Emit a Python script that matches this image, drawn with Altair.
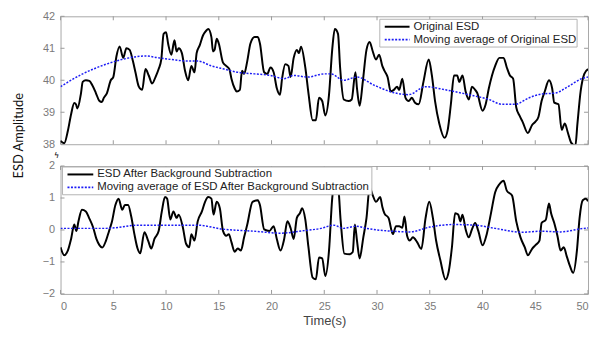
import altair as alt
import pandas as pd

# ---------------- data ----------------
t_orig = [0.0, 0.35, 0.7, 1.0, 1.3, 1.47, 1.6, 1.94, 2.1, 2.4, 2.73, 3.0, 3.35, 3.67, 3.92, 4.1, 4.4, 4.76,
          5.0, 5.3, 5.6, 5.94, 6.24, 6.55, 6.86, 7.1, 7.42, 7.74, 8.05, 8.36, 8.68, 9.0, 9.3, 9.55, 9.77,
          10.0, 10.2, 10.5, 10.8, 11.0, 11.2, 11.5, 11.8, 12.1, 12.4, 12.7, 12.9, 13.2, 13.5, 13.8, 14.0,
          14.3, 14.45, 14.6, 14.8, 15.0, 15.4, 15.7, 16.0, 16.2, 16.5, 16.7, 17.0, 17.2, 17.4, 17.7, 18.0,
          18.4, 18.7, 18.9, 19.3, 19.6, 19.9, 20.2, 20.5, 20.8, 21.0, 21.3, 21.6, 21.8, 22.1, 22.4, 22.6,
          22.8, 23.2, 23.5, 23.9, 24.2, 24.5, 24.8, 25.1, 25.45, 25.75, 26.0, 26.3, 26.5, 26.85, 27.3,
          27.6, 27.95, 28.1, 28.35, 28.65, 29.0, 29.3, 29.6, 29.9, 30.2, 30.5, 30.7, 31.0, 31.3, 31.6,
          31.9, 32.1, 32.4, 32.7, 33.0, 33.3, 33.6, 33.95, 34.4, 34.9, 35.2, 35.5, 35.9, 36.4, 36.7,
          37.0, 37.3, 37.6, 37.8, 38.1, 38.4, 38.7, 39.0, 39.3, 39.5, 40.0, 40.3, 40.6, 40.9, 41.2,
          41.6, 42.0, 42.3, 42.6, 42.9, 43.2, 43.5, 43.8, 44.3, 44.7, 45.0, 45.3, 45.6, 45.9, 46.3,
          46.6, 46.8, 47.2, 47.5, 47.8, 48.1, 48.4, 48.8, 49.0, 49.3, 49.65, 50.0]
v_orig = [38.1, 38.03, 38.43, 38.94, 39.29, 39.24, 39.12, 39.6, 39.95, 40.0, 39.98, 39.85, 39.6, 39.36,
          39.32, 39.45, 39.6, 40.0, 40.1, 40.75, 41.06, 40.7, 41.0, 40.95, 40.6, 40.25, 39.8, 39.7,
          40.35, 40.15, 39.9, 40.1, 40.35, 40.65, 41.45, 41.5, 41.14, 40.8, 41.25, 40.9, 41.0, 40.85,
          40.3, 40.0, 40.45, 40.25, 40.85, 41.1, 41.4, 41.55, 41.6, 41.35, 40.9, 40.95, 41.3, 41.15,
          40.55, 40.45, 40.35, 40.05, 39.75, 39.65, 39.7, 40.3, 40.2, 40.6, 41.15, 41.35, 41.35, 41.15,
          40.25, 40.2, 40.4, 40.25, 39.75, 39.55, 40.05, 40.5, 40.45, 40.1, 40.7, 40.95, 40.85, 41.05,
          40.4, 39.6, 38.75, 38.75, 39.45, 39.35, 38.9, 39.55, 40.95, 41.6, 41.45, 40.4, 39.4, 39.35,
          39.4, 40.25, 39.75, 39.2, 39.95, 40.95, 41.2, 40.9, 40.65, 40.8, 40.45, 40.3, 40.1, 39.65,
          39.7, 39.8, 39.7, 40.05, 39.45, 39.35, 39.45, 39.3, 39.25, 39.95, 40.65, 40.15, 39.35, 38.65,
          38.2, 38.45, 39.25, 40.15, 40.15, 39.95, 40.15, 39.65, 39.4, 39.8, 39.7, 39.6, 39.05, 39.25,
          39.75, 40.15, 40.45, 40.7, 40.7, 40.4, 40.15, 40.05, 39.15, 38.9, 38.7, 38.35, 38.6, 38.7,
          38.85, 39.35, 39.65, 40.0, 39.75, 39.3, 39.25, 38.45, 38.65, 38.35, 38.05, 37.95, 38.65,
          39.65, 40.2, 40.35]

t_orig_ma = [0.0, 2.1, 4.3, 5.95, 8.05, 9.3, 10.5, 12.1, 13.0, 14.3, 15.5, 16.8, 18.4, 19.9, 21.2, 22.1,
             23.4, 25.0, 25.6, 26.85, 28.1, 29.7, 31.5, 33.0, 34.6, 36.5, 38.7, 40.6, 41.85, 43.1, 44.4,
             45.6, 46.9, 48.1, 49.4, 50.0]
v_orig_ma = [39.8, 40.2, 40.5, 40.66, 40.76, 40.7, 40.65, 40.6, 40.6, 40.45, 40.35, 40.25, 40.2, 40.15,
             40.05, 40.15, 40.1, 40.2, 40.2, 40.0, 40.1, 39.85, 39.62, 39.55, 39.8, 39.7, 39.55, 39.4,
             39.25, 39.25, 39.45, 39.57, 39.6, 39.8, 40.05, 40.1]

t_sub = [0.0, 0.35, 0.7, 1.0, 1.3, 1.5, 1.7, 2.03, 2.4, 2.7, 3.1, 3.4, 3.7, 3.95, 4.3, 4.6, 4.85, 5.2,
         5.5, 5.85, 6.1, 6.4, 6.7, 7.0, 7.3, 7.55, 7.95, 8.3, 8.6, 8.9, 9.3, 9.6, 9.9, 10.1, 10.4, 10.7,
         11.0, 11.2, 11.6, 11.9, 12.2, 12.4, 12.7, 13.0, 13.4, 13.7, 14.0, 14.3, 14.5, 14.8, 15.1, 15.4,
         15.7, 15.95, 16.2, 16.5, 16.8, 17.1, 17.4, 17.7, 18.2, 18.7, 18.9, 19.3, 19.8, 20.2, 20.5,
         20.85, 21.2, 21.5, 21.8, 22.1, 22.4, 22.7, 22.9, 23.2, 23.5, 23.9, 24.2, 24.5, 24.8, 25.1,
         25.45, 25.75, 26.0, 26.3, 26.55, 26.9, 27.4, 27.7, 27.9, 28.1, 28.35, 28.7, 29.0, 29.3, 29.6,
         29.9, 30.3, 30.5, 30.7, 31.1, 31.5, 31.8, 32.1, 32.4, 32.6, 32.85, 33.1, 33.4, 33.8, 34.2,
         34.6, 34.95, 35.3, 35.6, 36.0, 36.5, 36.8, 37.1, 37.4, 37.7, 37.9, 38.1, 38.4, 38.7, 39.0,
         39.3, 39.6, 40.0, 40.4, 40.8, 41.2, 41.6, 42.0, 42.3, 42.8, 43.2, 43.6, 44.0, 44.3, 44.7,
         45.0, 45.4, 45.6, 46.0, 46.3, 46.5, 46.8, 47.1, 47.4, 47.7, 48.0, 48.3, 48.6, 48.95, 49.2,
         49.5, 49.8, 50.0]
v_sub = [-0.54, -0.79, -0.64, -0.28, 0.17, -0.03, 0.27, 0.63, 0.58, 0.38, 0.07, -0.28, -0.48, -0.55,
         -0.34, -0.03, 0.23, 0.78, 0.98, 0.63, 0.78, 0.78, 0.42, -0.13, -0.58, -0.73, -0.07, -0.33,
         -0.58, -0.28, -0.03, 0.58, 1.03, 0.98, 0.33, 0.58, 0.38, 0.48, 0.07, -0.43, -0.54, -0.13,
         -0.33, 0.27, 0.58, 0.88, 1.03, 0.98, 0.48, 0.88, 0.68, -0.03, -0.18, -0.13, -0.38, -0.68,
         -0.58, -0.64, -0.23, 0.17, 0.88, 0.93, 0.78, 0.02, -0.03, 0.12, -0.28, -0.64, -0.28, 0.27,
         0.07, -0.28, 0.38, 0.53, 0.68, 0.33, -0.54, -1.49, -1.54, -0.86, -0.89, -1.44, -0.64, 0.98,
         1.5, 1.4, 0.3, -0.74, -0.76, -0.69, 0.17, -0.33, -0.89, -0.23, 0.37, 1.33, 1.08, 0.88, 1.03,
         0.73, 0.52, 0.37, -0.13, 0.12, 0.12, 0.07, 0.42, -0.18, -0.33, -0.23, -0.38, -0.59, 0.37,
         0.88, 0.37, -0.33, -0.94, -1.55, -1.29, -0.54, 0.52, 0.48, 0.27, 0.48, 0.02, -0.23, 0.02,
         0.22, -0.03, -0.48, -0.13, 0.52, 1.18, 1.43, 1.54, 1.23, 1.08, 0.27, -0.23, -0.54, -0.79,
         -0.59, -0.48, -0.33, 0.22, 0.32, 0.83, 0.52, 0.22, -0.18, -0.64, -0.54, -0.84, -1.14, -1.34,
         -0.64, 0.37, 0.93, 0.98, 0.9]

t_sub_ma = [0.0, 4.3, 7.4, 12.1, 13.0, 15.3, 18.4, 20.9, 23.1, 24.7, 25.9, 26.8, 28.0, 29.0, 31.5, 33.1,
            35.0, 37.2, 39.3, 41.2, 43.7, 45.6, 47.4, 49.6, 50.0]
v_sub_ma = [0.05, 0.05, 0.15, 0.15, 0.15, 0.03, -0.04, -0.1, -0.02, 0.05, 0.15, 0.05, 0.12, 0.05, -0.04,
            -0.06, 0.09, 0.17, 0.15, 0.05, -0.07, -0.04, -0.06, 0.05, 0.06]

x_ticks = [0, 5, 10, 15, 20, 25, 30, 35, 40, 45, 50]
top_y_ticks = [38, 39, 40, 41, 42]
bot_y_ticks = [-2, -1, 0, 1, 2]

names_top = ["Original ESD", "Moving average of Original ESD"]
names_bot = ["ESD After Background Subtraction", "Moving average of ESD After Background Subtraction"]

# ---------------- styling ----------------
W, H = 532, 129
FONT = "Liberation Sans"
BLACK = "#000000"
BLUE = "#1c1cf5"
DOT = [2, 1.5]
TICK_COLOR = "#9a9a9a"
LABEL_COLOR = "#7a7a7a"
LEG_FS = 11.5


def legend_layers(names, box, sym_len, text_w):
    bx, by = box
    bw = 5 + sym_len + 4 + text_w + 5
    bh = 28
    r1, r2 = by + 7.5, by + 20.5
    one = pd.DataFrame({"k": [0]})
    frame = alt.Chart(one).mark_rect(fill="white", stroke="#b4b4b4", strokeWidth=1).encode(
        x=alt.value(bx), x2=alt.value(bx + bw), y=alt.value(by), y2=alt.value(by + bh))
    s1 = alt.Chart(one).mark_rule(color=BLACK, strokeWidth=2).encode(
        x=alt.value(bx + 5), x2=alt.value(bx + 5 + sym_len), y=alt.value(r1))
    s2 = alt.Chart(one).mark_rule(color=BLUE, strokeWidth=1.6, strokeDash=DOT).encode(
        x=alt.value(bx + 5), x2=alt.value(bx + 5 + sym_len), y=alt.value(r2))
    l1 = alt.Chart(pd.DataFrame({"s": [names[0]]})).mark_text(
        font=FONT, fontSize=LEG_FS, color="#222222", align="left", baseline="middle").encode(
        text="s:N", x=alt.value(bx + 9 + sym_len), y=alt.value(r1))
    l2 = alt.Chart(pd.DataFrame({"s": [names[1]]})).mark_text(
        font=FONT, fontSize=LEG_FS, color="#222222", align="left", baseline="middle").encode(
        text="s:N", x=alt.value(bx + 9 + sym_len), y=alt.value(r2))
    return [frame, s1, s2, l1, l2]


def panel(t1, v1, t2, v2, names, ydom, yticks, bottom, box, sym_len, text_w):
    xscale = alt.Scale(domain=[0, 50], nice=False)
    yscale = alt.Scale(domain=ydom, nice=False)
    if bottom:
        yaxis = alt.Axis(values=yticks, title=None, ticks=False, domain=False, grid=False,
                         labelFont=FONT, labelFontSize=11, labelColor=LABEL_COLOR, labelPadding=6,
                         minExtent=20, maxExtent=20)
        xaxis = alt.Axis(values=x_ticks, title="Time(s)", ticks=False, domain=False, grid=False,
                         labelFont=FONT, labelFontSize=11, labelColor=LABEL_COLOR, labelPadding=7,
                         titleFont=FONT, titleFontSize=13, titleColor="#444444", titleFontWeight="normal",
                         titlePadding=3)
    else:
        yaxis = alt.Axis(values=yticks, title="ESD Amplitude", ticks=False, domain=False, grid=False,
                         labelFont=FONT, labelFontSize=11, labelColor=LABEL_COLOR, labelPadding=6,
                         minExtent=20, maxExtent=20,
                         titleFont="Lato", titleFontSize=13, titleColor="#111111",
                         titleFontWeight="normal", titleAngle=270, titleX=-42, titleY=120,
                         titleBaseline="middle", titleAlign="center")
        xaxis = None

    d1 = pd.DataFrame({"t": t1, "v": v1})
    d2 = pd.DataFrame({"t": t2, "v": v2})
    raw = alt.Chart(d1).mark_line(clip=True, color=BLACK, strokeWidth=2, interpolate="monotone").encode(
        x=alt.X("t:Q", scale=xscale, axis=xaxis),
        y=alt.Y("v:Q", scale=yscale, axis=yaxis))
    ma = alt.Chart(d2).mark_line(clip=True, color=BLUE, strokeWidth=1.5, strokeDash=DOT,
                                 interpolate="monotone").encode(
        x=alt.X("t:Q", scale=xscale, axis=xaxis),
        y=alt.Y("v:Q", scale=yscale, axis=yaxis))

    xt = pd.DataFrame({"t": x_ticks})
    yt = pd.DataFrame({"v": yticks})
    tick_b = alt.Chart(xt).mark_rule(color=TICK_COLOR, strokeWidth=1).encode(
        x=alt.X("t:Q", scale=xscale, axis=xaxis), y=alt.value(H), y2=alt.value(H - 4))
    tick_t = alt.Chart(xt).mark_rule(color=TICK_COLOR, strokeWidth=1).encode(
        x=alt.X("t:Q", scale=xscale, axis=xaxis), y=alt.value(0), y2=alt.value(4))
    tick_l = alt.Chart(yt).mark_rule(color=TICK_COLOR, strokeWidth=1).encode(
        y=alt.Y("v:Q", scale=yscale, axis=yaxis), x=alt.value(0), x2=alt.value(4))
    tick_r = alt.Chart(yt).mark_rule(color=TICK_COLOR, strokeWidth=1).encode(
        y=alt.Y("v:Q", scale=yscale, axis=yaxis), x=alt.value(W), x2=alt.value(W - 4))

    layers = [tick_b, tick_t, tick_l, tick_r, raw, ma] + legend_layers(names, box, sym_len, text_w)
    if not bottom:
        brk = alt.Chart(pd.DataFrame({"s": ["ϟ"]})).mark_text(
            font="DejaVu Sans", fontSize=8, color="#000000").encode(
            text="s:N", x=alt.value(-4), y=alt.value(H + 11.5))
        layers.append(brk)
    return alt.layer(*layers).properties(width=W, height=H)


top = panel(t_orig, v_orig, t_orig_ma, v_orig_ma, names_top, [38, 42], top_y_ticks, False,
            (322, 3), 25, 160)
bot = panel(t_sub, v_sub, t_sub_ma, v_sub_ma, names_bot, [-2, 2], bot_y_ticks, True,
            (2, 1), 26, 272)

chart = alt.vconcat(top, bot, spacing=22, bounds="flush").configure_view(
    stroke="#a8a8a8", strokeWidth=1
).properties(padding={"left": 4, "top": 0, "right": 0, "bottom": 0}, background="white")

chart.save("out.html", embed_options={"renderer": "svg", "actions": False})
